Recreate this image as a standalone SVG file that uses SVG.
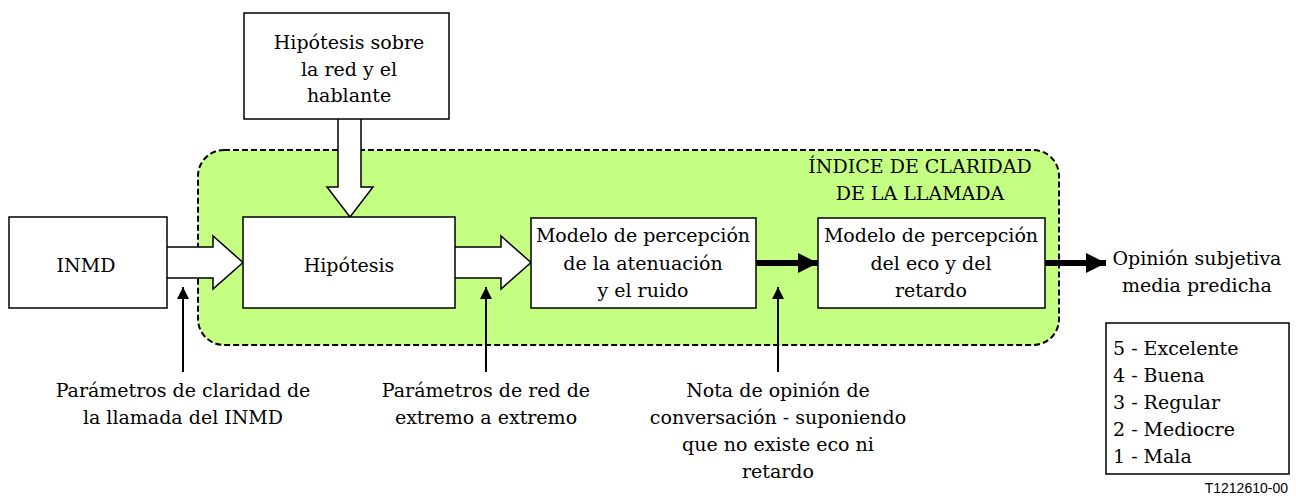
<svg xmlns="http://www.w3.org/2000/svg" width="1296" height="498" viewBox="0 0 1296 498">
<style>
.t{font-family:"DejaVu Serif","Liberation Serif",serif;font-size:19px;fill:#000;text-anchor:middle}
.l{text-anchor:start}
.box{fill:#fff;stroke:#000;stroke-width:1.5}
.hollow{fill:#fff;stroke:#000;stroke-width:1.5;stroke-linejoin:miter}
.thin{stroke:#000;stroke-width:2;fill:none}
.thick{stroke:#000;stroke-width:6;fill:none}
.code{font-family:"Liberation Sans",Arial,sans-serif;font-size:14px;text-anchor:end}
</style>
<defs>
<marker id="ah" markerUnits="userSpaceOnUse" markerWidth="14" markerHeight="14" refX="12" refY="6" orient="auto"><path d="M0,0 L12,6 L0,12 Z" fill="#000"/></marker>
<marker id="ahb" markerUnits="userSpaceOnUse" markerWidth="22" markerHeight="22" refX="20" refY="10" orient="auto"><path d="M0,0 L20,10 L0,20 Z" fill="#000"/></marker>
</defs>
<g id="region">
<rect x="198" y="150" width="861" height="195" rx="26" ry="26" fill="#C4FF84" stroke="#000" stroke-width="2" stroke-dasharray="6,3"/>
<text class="t" x="920" y="173">ÍNDICE DE CLARIDAD</text>
<text class="t" x="920" y="200">DE LA LLAMADA</text>
</g>
<g id="connectors">
<path class="hollow" d="M167,247 L213,247 L213,236 L243,262.5 L213,289 L213,278 L167,278"/>
<path class="hollow" d="M338,119 L338,187 L327,187 L350,217 L373,187 L361,187 L361,119"/>
<path class="hollow" d="M455,247 L501,247 L501,236 L531,262.5 L501,289 L501,278 L455,278"/>
<line class="thick" x1="756" y1="263" x2="818" y2="263" marker-end="url(#ahb)"/>
<line class="thick" x1="1045" y1="263" x2="1106" y2="263" marker-end="url(#ahb)"/>
<line class="thin" x1="183" y1="372" x2="183" y2="287" marker-end="url(#ah)"/>
<line class="thin" x1="486" y1="372" x2="486" y2="287" marker-end="url(#ah)"/>
<line class="thin" x1="778" y1="372" x2="778" y2="287" marker-end="url(#ah)"/>
</g>
<g id="hipotesis-red">
<rect class="box" x="244" y="13" width="205" height="106"/>
<text class="t" x="349" y="49">Hipótesis sobre</text>
<text class="t" x="349" y="76">la red y el</text>
<text class="t" x="349" y="102">hablante</text>
</g>
<g id="inmd">
<rect class="box" x="9" y="217" width="158" height="91"/>
<text class="t" x="86" y="272">INMD</text>
</g>
<g id="hipotesis">
<rect class="box" x="243" y="217" width="212" height="91"/>
<text class="t" x="349" y="272">Hipótesis</text>
</g>
<g id="modelo-atenuacion">
<rect class="box" x="531" y="218" width="225" height="90"/>
<text class="t" x="643" y="242">Modelo de percepción</text>
<text class="t" x="643" y="270">de la atenuación</text>
<text class="t" x="643" y="297">y el ruido</text>
</g>
<g id="modelo-eco">
<rect class="box" x="818" y="218" width="227" height="90"/>
<text class="t" x="931" y="242">Modelo de percepción</text>
<text class="t" x="931" y="270">del eco y del</text>
<text class="t" x="931" y="297">retardo</text>
</g>
<g id="opinion">
<text class="t" x="1197" y="265" font-size="18">Opinión subjetiva</text>
<text class="t" x="1197" y="292" font-size="18">media predicha</text>
</g>
<g id="label-inmd">
<text class="t" x="183" y="397">Parámetros de claridad de</text>
<text class="t" x="183" y="424">la llamada del INMD</text>
</g>
<g id="label-red">
<text class="t" x="486" y="397">Parámetros de red de</text>
<text class="t" x="486" y="424">extremo a extremo</text>
</g>
<g id="label-nota">
<text class="t" x="778" y="397">Nota de opinión de</text>
<text class="t" x="778" y="424">conversación - suponiendo</text>
<text class="t" x="778" y="451">que no existe eco ni</text>
<text class="t" x="778" y="478">retardo</text>
</g>
<g id="legend">
<rect class="box" x="1106" y="323" width="183" height="151"/>
<text class="t l" x="1113" y="355">5 - Excelente</text>
<text class="t l" x="1113" y="382">4 - Buena</text>
<text class="t l" x="1113" y="409">3 - Regular</text>
<text class="t l" x="1113" y="436">2 - Mediocre</text>
<text class="t l" x="1113" y="463">1 - Mala</text>
</g>
<text class="code" x="1288" y="493">T1212610-00</text>
</svg>
